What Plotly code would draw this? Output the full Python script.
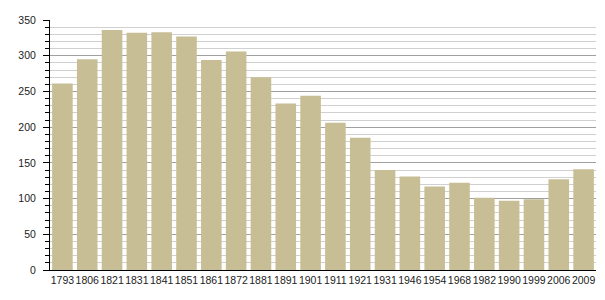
import plotly.graph_objects as go

years = ["1793", "1806", "1821", "1831", "1841", "1851", "1861", "1872", "1881", "1891",
         "1901", "1911", "1921", "1931", "1946", "1954", "1968", "1982", "1990", "1999",
         "2006", "2009"]
population = [261, 295, 336, 332, 333, 327, 294, 306, 270, 233,
              244, 206, 185, 140, 131, 117, 122, 101, 97, 99,
              127, 141]

fig = go.Figure(go.Bar(
    x=years, y=population,
    marker=dict(color="#c8be96", line=dict(width=0)),
    hoverinfo="x+y",
))

fig.update_layout(
    width=605, height=300,
    margin=dict(l=50, r=9, t=20, b=30),
    plot_bgcolor="white", paper_bgcolor="white",
    bargap=0.17,
    showlegend=False,
    font=dict(family="Liberation Sans, Arial, sans-serif", size=10.5, color="#222"),
    xaxis=dict(
        type="category",
        showgrid=False,
        showline=True, linecolor="black", linewidth=1,
        ticks="", tickfont=dict(size=10.5), tickangle=0,
        range=[-0.5, len(years) - 0.5],
        fixedrange=True,
    ),
    yaxis=dict(
        range=[0, 350],
        dtick=50, tick0=0,
        showgrid=True, gridcolor="#a0a0a0", gridwidth=1,
        showline=True, linecolor="black", linewidth=1,
        ticks="outside", ticklen=6, tickcolor="black", tickwidth=1,
        ticklabelstandoff=5,
        zeroline=False,
        minor=dict(dtick=10, showgrid=True, gridcolor="#d0d0d0", gridwidth=1,
                   ticks="outside", ticklen=4, tickcolor="black"),
        fixedrange=True,
    ),
)

fig.write_html("out.html")
